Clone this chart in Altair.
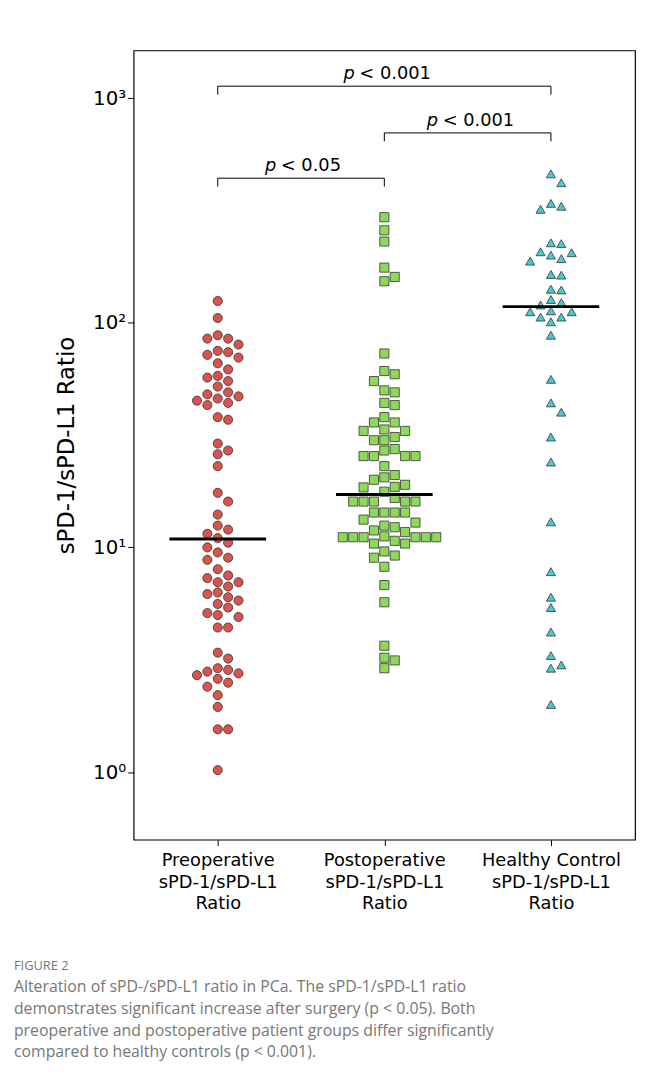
import altair as alt
import pandas as pd
import numpy as np

groups = ["Preoperative", "Postoperative", "Healthy Control"]
pre_vals = [125, 105, 88, 85, 85, 80, 75, 74, 72, 70, 66, 62, 58, 57, 55, 52, 49, 48, 47, 46,
            45, 44, 43, 38, 37, 29, 27, 26, 23, 17.5, 16, 14, 12.5, 12, 11.5, 11, 10.5, 10, 9.5, 9,
            8.8, 8, 7.5, 7.3, 7, 7, 6.7, 6.3, 6.2, 6, 5.8, 5.6, 5.4, 5.1, 5, 4.9, 4.4, 4.4, 3.4, 3.2,
            2.9, 2.85, 2.8, 2.75, 2.7, 2.6, 2.5, 2.4, 2.2, 1.95, 1.55, 1.55, 1.02]
post_vals = [295, 258, 230, 176, 160, 153, 73, 61, 59, 55, 50, 49, 44, 43, 38, 36, 36, 33.5, 33, 33,
             31, 30, 30, 27.4, 27, 25.5, 25.5, 25.5, 25.5, 23, 21, 20.5, 20, 19, 18.6, 18.5, 17.7,
             16.6, 16, 16, 16, 16, 16, 14.3, 14.3, 14.3, 14.3, 13.3, 12.9, 12.5, 12.3, 11.9, 11.7,
             11.2, 11.1, 11.1, 11.1, 11.1, 11.1, 11.1, 10.7, 10.4, 10.4, 9.6, 9.2, 9.0, 8.2, 6.8, 5.7,
             3.65, 3.23, 3.14, 2.9]
hc_vals = [460, 420, 340, 330, 320, 227, 225, 207, 205, 200, 193, 188, 164, 163, 141, 140, 127, 123,
           120, 113, 112, 112, 106, 106, 101, 88, 56, 44, 40, 31, 24, 13, 7.8, 6.0, 5.4, 4.2, 3.3,
           3.0, 2.9, 2.0]
medians = [10.9, 17.2, 118]
brackets = [(0, 1, 440, "< 0.05"), (1, 2, 700, "< 0.001"), (0, 2, 1130, "< 0.001")]

colors = ["#d9534f", "#8fd95a", "#4bc8d2"]
shapes = ["circle", "square", "triangle-up"]
PX_X = 168.5   # pixels per x unit
PX_Y = 227.5   # pixels per decade
D = 10.5       # marker spacing in px


def swarm(vals, center):
    ys = np.log10(vals) * PX_Y
    placed = []
    xs = []
    cands = [0]
    for i in range(1, 20):
        cands += [i * D, -i * D]
    for y in ys:
        for c in cands:
            if all((c - px) ** 2 + (y - py) ** 2 >= (D * 0.98) ** 2 for px, py in placed):
                break
        placed.append((c, y))
        xs.append(center + c / PX_X)
    return xs


rows = []
for gi, vals in enumerate([pre_vals, post_vals, hc_vals]):
    vs = sorted(vals, reverse=True)
    for x, v in zip(swarm(vs, gi), vs):
        rows.append({"x": x, "v": v, "g": groups[gi]})
pts = pd.DataFrame(rows)

xs = alt.Scale(domain=[-0.505, 2.505], nice=False, zero=False)
ys = alt.Scale(type="log", domain=[0.5, 1630], nice=False)
labels = ("[['Preoperative','sPD-1/sPD-L1','Ratio'],['Postoperative','sPD-1/sPD-L1','Ratio'],"
          "['Healthy Control','sPD-1/sPD-L1','Ratio']][datum.value]")

points = alt.Chart(pts).mark_point(filled=True, size=85, stroke="#333333", strokeWidth=0.8,
                                   opacity=1).encode(
    x=alt.X("x:Q", scale=xs, axis=alt.Axis(values=[0, 1, 2], labelExpr=labels, title=None,
                                          labelFontSize=18, labelColor="black", grid=False,
                                          tickColor="black", domain=False, labelPadding=6,
                                          labelLineHeight=22)),
    y=alt.Y("v:Q", scale=ys, axis=alt.Axis(values=[1, 10, 100, 1000],
                                          labelExpr="'10' + ['⁰','¹','²','³'][round(log(datum.value)/log(10))]",
                                          title="sPD-1/sPD-L1 Ratio", titleFontSize=23,
                                          titleFontWeight="normal", titleColor="black",
                                          labelFontSize=20, labelColor="black", grid=False,
                                          tickColor="black", domain=False, titlePadding=14)),
    color=alt.Color("g:N", scale=alt.Scale(domain=groups, range=colors), legend=None),
    shape=alt.Shape("g:N", scale=alt.Scale(domain=groups, range=shapes), legend=None),
)

med = pd.DataFrame({"x1": [i - 0.29 for i in range(3)], "x2": [i + 0.29 for i in range(3)],
                    "m": medians})
med_rules = alt.Chart(med).mark_rule(color="black", strokeWidth=3).encode(
    x=alt.X("x1:Q", scale=xs), x2="x2:Q", y=alt.Y("m:Q", scale=ys))

seg = []
for a, b, yv, _ in brackets:
    seg.append({"x1": a, "x2": b, "y1": yv, "y2": yv})
    seg.append({"x1": a, "x2": a, "y1": yv, "y2": yv / 1.09})
    seg.append({"x1": b, "x2": b, "y1": yv, "y2": yv / 1.09})
br = alt.Chart(pd.DataFrame(seg)).mark_rule(color="black", strokeWidth=1).encode(
    x=alt.X("x1:Q", scale=xs), x2="x2:Q", y=alt.Y("y1:Q", scale=ys), y2="y2:Q")

layers = [points, med_rules, br]
for a, b, yv, lab in brackets:
    w = 9.5 * len(lab)
    d = pd.DataFrame({"x": [(a + b) / 2], "y": [yv]})
    base = alt.Chart(d).encode(x=alt.X("x:Q", scale=xs), y=alt.Y("y:Q", scale=ys))
    layers.append(base.mark_text(text="p", fontStyle="italic", fontSize=18, align="left",
                                 baseline="bottom", dy=-3, dx=-(w + 16) / 2, font="DejaVu Sans"))
    layers.append(base.mark_text(text=lab, fontSize=18, align="left", baseline="bottom",
                                 dy=-3, dx=-(w + 16) / 2 + 16, font="DejaVu Sans"))

chart = alt.layer(*layers).properties(
    width=507, height=798,
    padding={"left": 6, "top": 37, "right": 5, "bottom": 10},
    title=alt.TitleParams(
        "FIGURE 2",
        subtitle=["Alteration of sPD-/sPD-L1 ratio in PCa. The sPD-1/sPD-L1 ratio",
                  "demonstrates significant increase after surgery (p < 0.05). Both",
                  "preoperative and postoperative patient groups differ significantly",
                  "compared to healthy controls (p < 0.001)."],
        orient="bottom", anchor="start", frame="group", offset=48, dx=-121,
        fontSize=13, fontWeight="normal", color="#777777", font="Open Sans",
        subtitleFontSize=16, subtitleColor="#777777", subtitleFont="Open Sans",
        subtitleLineHeight=22, subtitlePadding=6),
).configure_view(stroke="black", strokeWidth=1.2).configure_axis(
    labelFont="DejaVu Sans", titleFont="DejaVu Sans", tickSize=6)

chart.save("out.html", embed_options={"renderer": "svg", "actions": False})
